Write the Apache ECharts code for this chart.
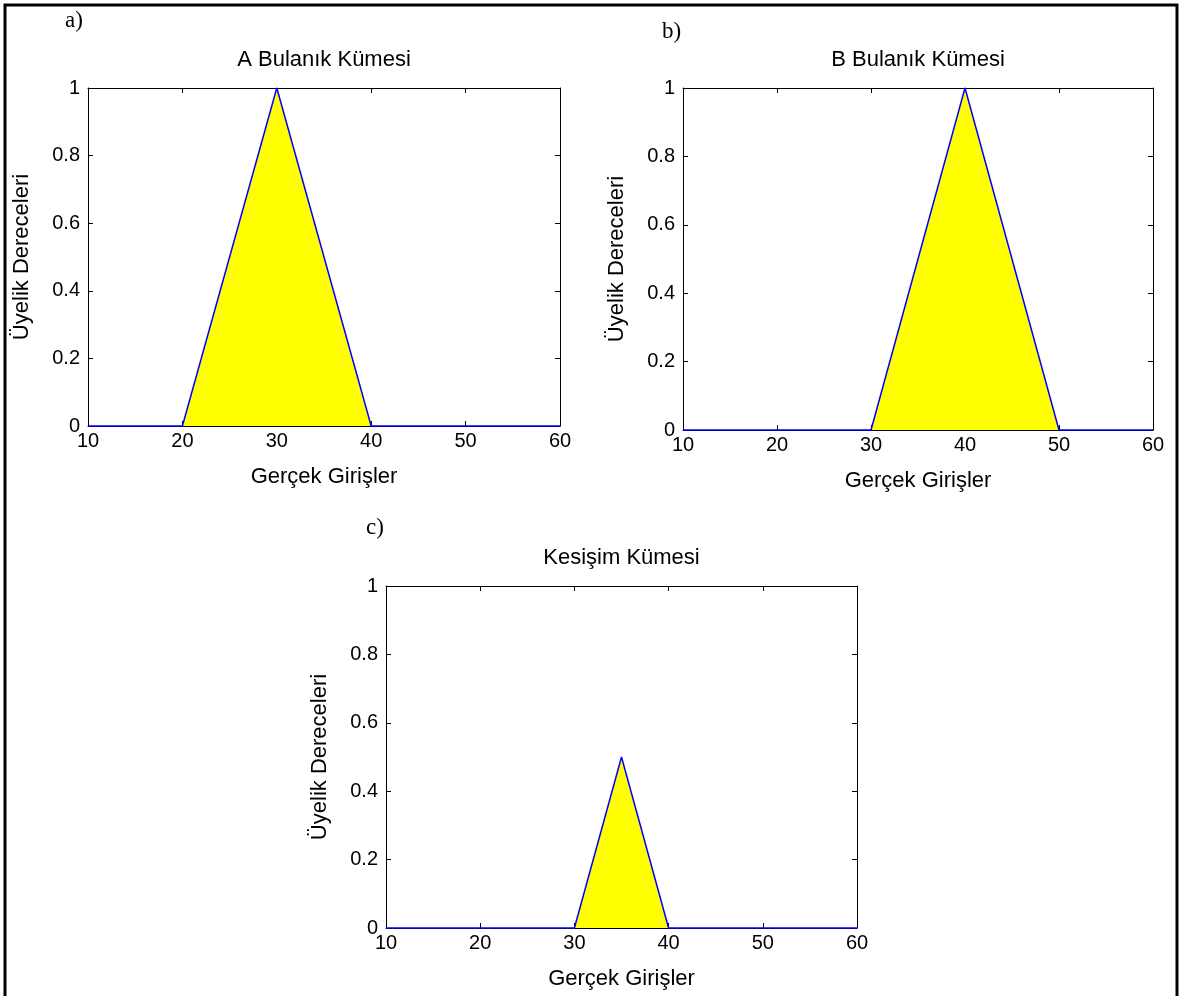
<!DOCTYPE html>
<html>
<head>
<meta charset="utf-8">
<script src="https://cdn.jsdelivr.net/npm/echarts@6/dist/echarts.min.js"></script>
<style>
html,body{margin:0;padding:0;background:#fff;}
#chart{width:1180px;height:996px;}
</style>
</head>
<body>
<div id="chart"></div>
<script>
// Data
const panelLabels = ['a)', 'b)', 'c)'];
const titles = ['A Bulanık Kümesi', 'B Bulanık Kümesi', 'Kesişim Kümesi'];
const xName = 'Gerçek Girişler';
const yName = 'Üyelik Dereceleri';
const xA = [10, 20, 30, 40, 60];
const yA = [0, 0, 1, 0, 0];
const xB = [10, 30, 40, 50, 60];
const yB = [0, 0, 1, 0, 0];
const xC = [10, 30, 35, 40, 60];
const yC = [0, 0, 0.5, 0, 0];
const xTicks = [10, 20, 30, 40, 50, 60];
const yTicks = [0, 0.2, 0.4, 0.6, 0.8, 1];

const FONT = '"Liberation Sans", Arial, sans-serif';
const SERIF = '"Liberation Serif", "Times New Roman", serif';

const grids = [
  {left: 88, top: 88, width: 472, height: 338},
  {left: 683, top: 88, width: 470, height: 342},
  {left: 386, top: 586, width: 471, height: 342}
];
const panelLabelPos = [[65, 22], [662, 33], [366, 529]];
const seriesData = [[xA, yA], [xB, yB], [xC, yC]];

const chart = echarts.init(document.getElementById('chart'), null, {renderer: 'canvas'});

const xAxes = [], yAxes = [], series = [], graphic = [];
grids.forEach((g, i) => {
  const tickStyle = {show: true, inside: true, length: 5, lineStyle: {color: '#000', width: 1}};
  const lineStyle = {show: true, onZero: false, lineStyle: {color: '#000', width: 1}};
  xAxes.push({
    gridIndex: i, type: 'value', min: xTicks[0], max: xTicks[xTicks.length - 1], interval: 10,
    position: 'bottom', axisLine: lineStyle, axisTick: tickStyle, splitLine: {show: false},
    axisLabel: {color: '#000', fontFamily: FONT, fontSize: 20, margin: 5},
    name: xName, nameLocation: 'middle', nameGap: 40,
    nameTextStyle: {color: '#000', fontFamily: FONT, fontSize: 22}
  });
  xAxes.push({
    gridIndex: i, type: 'value', min: xTicks[0], max: xTicks[xTicks.length - 1], interval: 10,
    position: 'top', axisLine: lineStyle, axisTick: tickStyle, splitLine: {show: false},
    axisLabel: {show: false}
  });
  yAxes.push({
    gridIndex: i, type: 'value', min: yTicks[0], max: yTicks[yTicks.length - 1], interval: 0.2,
    position: 'left', axisLine: lineStyle, axisTick: tickStyle, splitLine: {show: false},
    axisLabel: {color: '#000', fontFamily: FONT, fontSize: 20, margin: 8},
    name: yName, nameLocation: 'middle', nameGap: 55, nameRotate: 90,
    nameTextStyle: {color: '#000', fontFamily: FONT, fontSize: 22}
  });
  yAxes.push({
    gridIndex: i, type: 'value', min: yTicks[0], max: yTicks[yTicks.length - 1], interval: 0.2,
    position: 'right', axisLine: lineStyle, axisTick: tickStyle, splitLine: {show: false},
    axisLabel: {show: false}
  });
  const [xs, ys] = seriesData[i];
  series.push({
    type: 'line', xAxisIndex: i * 2, yAxisIndex: i * 2,
    data: xs.map((x, k) => [x, ys[k]]),
    showSymbol: false, symbol: 'none', clip: false,
    lineStyle: {color: '#0000ff', width: 1.5},
    areaStyle: {color: '#ffff00', opacity: 1},
    z: 3, animation: false
  });
  graphic.push({
    type: 'text', left: panelLabelPos[i][0], top: panelLabelPos[i][1] - 13,
    style: {text: panelLabels[i], font: '23px ' + SERIF, fill: '#000'}
  });
  graphic.push({
    type: 'text', x: g.left + g.width / 2, y: g.top - 28,
    style: {text: titles[i], font: '22px ' + FONT, fill: '#000', align: 'center', verticalAlign: 'middle'}
  });
});
graphic.push({
  type: 'rect', shape: {x: 5, y: 5, width: 1172, height: 1000},
  style: {fill: 'none', stroke: '#000', lineWidth: 3}, z: 100
});

chart.setOption({
  animation: false,
  backgroundColor: '#fff',
  grid: grids.map(g => Object.assign({show: false, containLabel: false}, g)),
  xAxis: xAxes,
  yAxis: yAxes,
  series: series,
  graphic: graphic
});
</script>
</body>
</html>
